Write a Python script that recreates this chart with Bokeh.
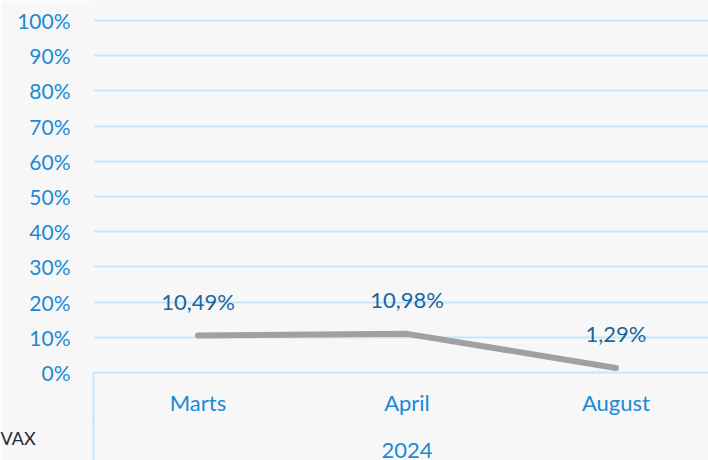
from bokeh.plotting import figure
from bokeh.models import (ColumnDataSource, Range1d, FixedTicker, LinearAxis, Title, LabelSet)
from bokeh.core.properties import value
from bokeh.embed import file_html
from bokeh.resources import INLINE

categories = ["Marts", "April", "August"]
values = [10.49, 10.98, 1.29]
value_labels = ["10,49%", "10,98%", "1,29%"]
year_label = "2024"
source_label = "VAX"
y_ticks = [0, 10, 20, 30, 40, 50, 60, 70, 80, 90, 100]

FONT = "Lato"
BLUE = "#1a8ad6"
DARK_BLUE = "#17669e"
GRID = "#c6e7fb"
BG = "#f7f7f7"

xs = list(range(len(categories)))
src = ColumnDataSource(dict(x=xs, y=values, lbl=value_labels))

p = figure(width=708, height=460, output_backend="svg", toolbar_location=None,
           x_range=Range1d(-0.5, -0.5 + 615 / 209), y_range=Range1d(0, 105.68),
           x_axis_location=None, min_border_left=93, min_border_right=0,
           min_border_top=0, min_border_bottom=88)
p.background_fill_color = BG
p.border_fill_color = BG
p.outline_line_color = None

p.xgrid.visible = False
p.ygrid.ticker = FixedTicker(ticks=y_ticks)
p.ygrid.grid_line_color = GRID
p.ygrid.grid_line_width = 2

# y axis
ya = p.yaxis[0]
ya.ticker = FixedTicker(ticks=y_ticks)
ya.major_label_overrides = {t: f"{t}%" for t in y_ticks}
ya.axis_line_color = None
ya.major_tick_line_color = None
ya.minor_tick_line_color = None
ya.major_tick_out = 0
ya.minor_tick_out = 0
ya.major_label_standoff = 23
ya.major_label_text_color = BLUE
ya.major_label_text_font = FONT
ya.major_label_text_font_size = "21px"

# category axis
xa = LinearAxis(ticker=FixedTicker(ticks=xs, minor_ticks=[-0.5]))
xa.major_label_overrides = {i: c for i, c in enumerate(categories)}
xa.axis_line_color = GRID
xa.axis_line_width = 2
xa.major_tick_line_color = None
xa.major_tick_out = 0
xa.major_tick_in = 0
xa.minor_tick_line_color = GRID
xa.minor_tick_line_width = 2
xa.minor_tick_in = 0
xa.minor_tick_out = 50
xa.major_label_standoff = -34
xa.major_label_text_color = BLUE
xa.major_label_text_font = FONT
xa.major_label_text_font_size = "22px"
p.add_layout(xa, "below")

# year axis
xa2 = LinearAxis(ticker=FixedTicker(ticks=[1], minor_ticks=[-0.5]))
xa2.major_label_overrides = {1: year_label}
xa2.axis_line_color = None
xa2.major_tick_line_color = None
xa2.major_tick_out = 0
xa2.major_tick_in = 0
xa2.minor_tick_line_color = GRID
xa2.minor_tick_line_width = 2
xa2.minor_tick_in = 0
xa2.minor_tick_out = 54
xa2.major_label_standoff = -30
xa2.major_label_text_color = BLUE
xa2.major_label_text_font = FONT
xa2.major_label_text_font_size = "22px"
p.add_layout(xa2, "below")

p.add_layout(Title(text=source_label, align="left", vertical_align="top", offset=-93, standoff=-68,
                   text_color="#1e2a36", text_font=FONT, text_font_size="18px",
                   text_font_style="normal"), "below")

p.line("x", "y", source=src, line_color="#a0a0a0", line_width=6, line_cap="round", line_join="round")

labels = LabelSet(x="x", y="y", text="lbl", source=src, text_align="center", text_baseline="middle",
                  y_offset=34, text_color=DARK_BLUE, text_font=value(FONT), text_font_size="22px")
p.add_layout(labels)

open("out.html", "w").write(file_html(p, INLINE))
